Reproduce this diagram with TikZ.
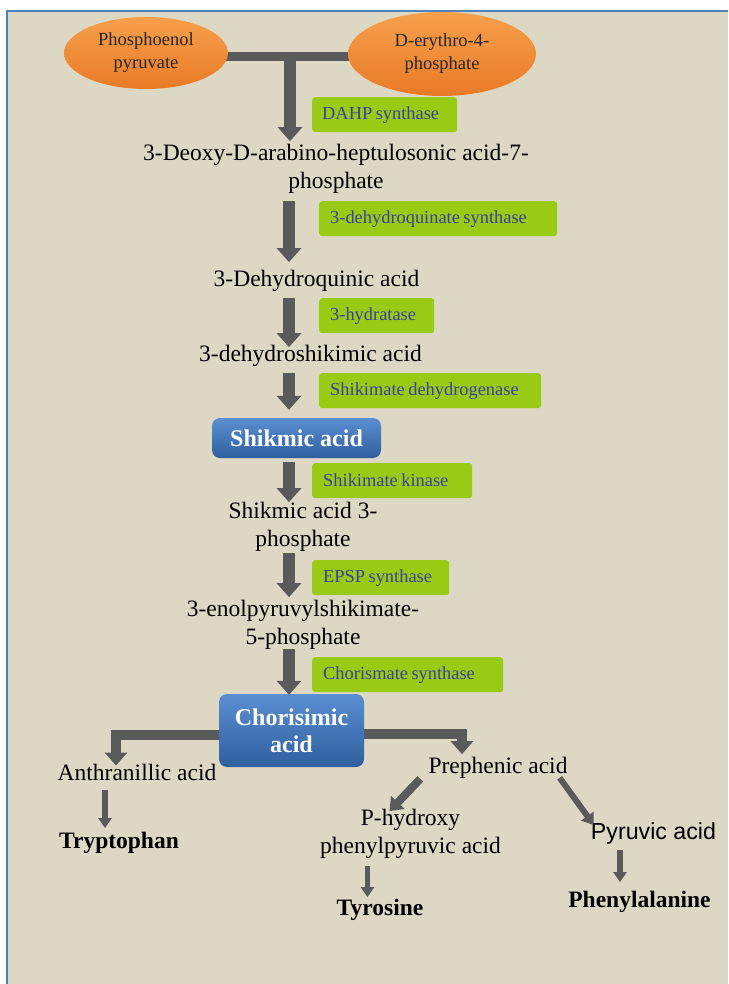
\documentclass[tikz,border=0pt]{standalone}
\usepackage{fontspec}
\setmainfont{Liberation Serif}
\newfontfamily\arialfont{Liberation Sans}
\usetikzlibrary{arrows.meta,shapes.geometric,calc}
\definecolor{bgtan}{HTML}{DDD8C3}
\definecolor{frameblue}{HTML}{4F81BD}
\definecolor{arrgray}{HTML}{5A5A5A}
\definecolor{enzgreen}{HTML}{9ACB14}
\definecolor{enztext}{HTML}{3C3F9E}
\definecolor{orangeT}{HTML}{F6A04C}
\definecolor{orangeB}{HTML}{E97A26}
\definecolor{blueT}{HTML}{5B8FD2}
\definecolor{blueB}{HTML}{2F5F9E}
\pgfdeclarelayer{bgl}
\pgfsetlayers{bgl,main}
\begin{document}
\begin{tikzpicture}[x=1pt,y=-1pt,
  chem/.style={inner sep=0pt, font=\fontsize{23.5}{28}\selectfont, align=center, text=black},
  prod/.style={inner sep=0pt, font=\fontsize{23.5}{28}\selectfont\bfseries, align=center, text=black},
  enz/.style={fill=enzgreen, rounded corners=3pt, anchor=north west, inner xsep=11pt, inner ysep=0pt,
    minimum height=35pt, align=left, font=\fontsize{18.4}{22}\selectfont, text=enztext,
    execute at begin node={\spaceskip=3.5pt\relax}},
  hub/.style={rounded corners=8pt, top color=blueT, bottom color=blueB, text=white,
    font=\fontsize{24}{27}\selectfont\bfseries, align=center, inner sep=0pt},
  sub/.style={ellipse, top color=orangeT, bottom color=orangeB, inner sep=0pt,
    font=\fontsize{18.5}{23}\selectfont, align=center, text=black!85},
  bigarr/.style={draw=arrgray, line width=12pt, -{Triangle[width=24pt,length=14pt]}},
  brarr/.style={draw=arrgray, line width=10pt, line join=miter, -{Triangle[width=22pt,length=13pt]}},
  bar/.style={draw=arrgray, line width=9pt},
  midarr/.style={draw=arrgray, line width=8pt, -{Triangle[width=18pt,length=12pt]}},
  smarr/.style={draw=arrgray, line width=6pt, -{Triangle[width=15pt,length=11pt]}},
  thinarr/.style={draw=arrgray, line width=5.5pt, -{Triangle[width=13pt,length=10pt]}}
]
\useasboundingbox (0,0) rectangle (728,984);
\begin{pgfonlayer}{bgl}
\fill[white] (0,0) rectangle (728,984);
\fill[bgtan] (7,11) rectangle (728,984);
\draw[frameblue, line width=2pt] (7,984) -- (7,11) -- (728,11);
\end{pgfonlayer}

% substrates
\node[sub, minimum width=164pt, minimum height=72pt] (pep) at (146,53) {Phosphoenol\\pyruvate};
\node[sub, minimum width=188pt, minimum height=84pt] (e4p) at (442,54) {D-erythro-4-\\phosphate};

% intermediates
\node[chem] (deoxy) at (336,169) {3-Deoxy-D-arabino-heptulosonic acid-7-\\phosphate};
\node[chem] (dhq) at (316.5,281) {3-Dehydroquinic acid};
\node[chem] (dhs) at (310.5,356) {3-dehydroshikimic acid};
\node[hub, minimum width=169pt, minimum height=40pt] (shik) at (296.5,438) {Shikmic acid};
\node[chem] (s3p) at (303,527) {Shikmic acid 3-\\phosphate};
\node[chem] (epsp) at (303,625) {3-enolpyruvylshikimate-\\5-phosphate};
\node[hub, minimum width=145pt, minimum height=73pt] (chor) at (291.5,730.5) {Chorisimic\\acid};
\node[chem] (anth) at (137,772) {Anthranillic acid};
\node[prod] (tryp) at (119,843) {Tryptophan};
\node[chem] (preph) at (498,768) {Prephenic acid};
\node[chem] (phpp) at (410.5,834) {P-hydroxy\\phenylpyruvic acid};
\node[prod] (tyr) at (380,910) {Tyrosine};
\node[inner sep=0pt, font=\arialfont\fontsize{23.2}{28}\selectfont, text=black] (pyr) at (653.5,833) {Pyruvic acid};
\node[prod] (phe) at (639.5,902) {Phenylalanine};

% enzymes
\node[enz, inner xsep=10pt, minimum width=145pt, text width=125pt] (e1) at (312,97) {DAHP synthase};
\node[enz, minimum width=238pt, text width=216pt] (e2) at (319,201) {3-dehydroquinate synthase};
\node[enz, minimum width=115pt, text width=93pt] (e3) at (319,298) {3-hydratase};
\node[enz, minimum width=222pt, text width=200pt] (e4) at (319,373) {Shikimate dehydrogenase};
\node[enz, minimum width=160pt, text width=138pt] (e5) at (312,463) {Shikimate kinase};
\node[enz, minimum width=137pt, text width=115pt] (e6) at (312,560) {EPSP synthase};
\node[enz, minimum width=191pt, text width=169pt] (e7) at (312,657) {Chorismate synthase};

% connectors
\coordinate (j) at (290,57);
\coordinate (spine) at (289,0);
\begin{pgfonlayer}{bgl}
\draw[bar] ($(j -| pep.east)+(-6,0)$) -- ($(j -| e4p.west)+(6,0)$);
\draw[brarr, shorten >=-2pt] ($(chor.west)+(10,4.5)$) -| ($(anth.north)+(-21,0)$);
\draw[brarr, shorten >=3pt] ($(chor.east)+(-10,3.5)$) -| ($(preph.north)+(-36,0)$);
\end{pgfonlayer}
\draw[bigarr, shorten >=3pt] (j) -- (j |- deoxy.north);
\draw[bigarr, shorten <=7pt, shorten >=8pt] (spine |- deoxy.south) -- (spine |- dhq.north);
\draw[bigarr, shorten <=6pt, shorten >=-2pt] (spine |- dhq.south) -- (spine |- dhs.north);
\draw[bigarr, shorten <=6pt, shorten >=8pt] (spine |- dhs.south) -- (spine |- shik.north);
\draw[bigarr, shorten <=4pt, shorten >=0pt] (spine |- shik.south) -- (spine |- s3p.north);
\draw[bigarr, shorten <=1pt, shorten >=3pt] (spine |- s3p.south) -- (spine |- epsp.north);
\draw[bigarr, shorten <=-1pt, shorten >=-1pt] (spine |- epsp.south) -- (spine |- chor.north);

\draw[midarr] ($(preph.south west)+(-8,0)$) -- ($(phpp.north)+(-21,2)$);
\draw[smarr] ($(preph.south east)+(-8,-1)$) -- ($(pyr.north west)+(3,3)$);

\coordinate (t1) at ($(anth.south)+(-32,10)$);
\draw[thinarr, shorten >=4pt] (t1) -- (t1 |- tryp.north);
\coordinate (t2) at ($(phpp.south)+(-43,7)$);
\draw[thinarr, shorten >=2pt] (t2) -- (t2 |- tyr.north);
\coordinate (t3) at ($(pyr.south)+(-33.5,6)$);
\draw[thinarr, shorten >=9pt] (t3) -- (t3 |- phe.north);
\end{tikzpicture}
\end{document}
